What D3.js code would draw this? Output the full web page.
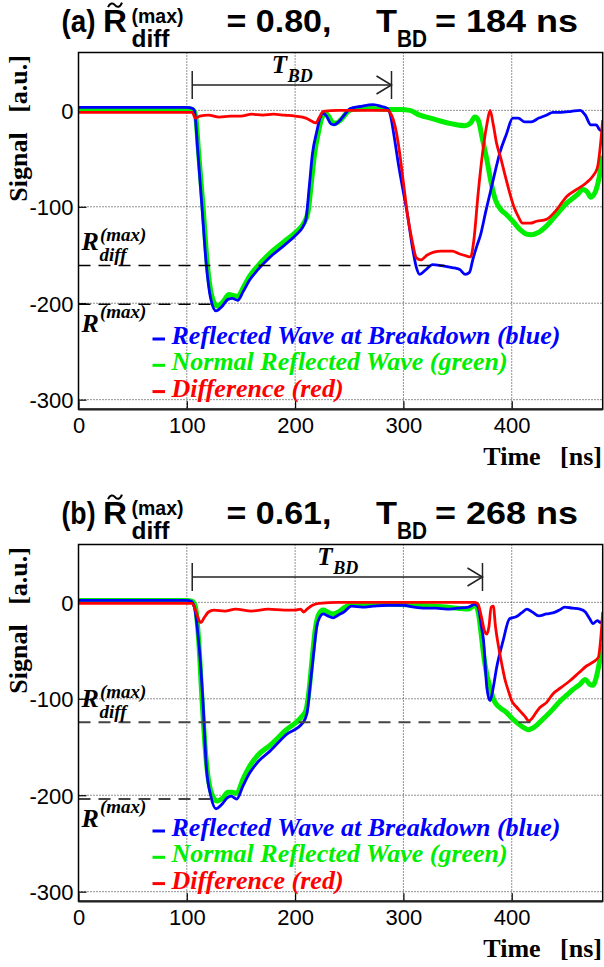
<!DOCTYPE html>
<html>
<head>
<meta charset="utf-8">
<script src="https://cdn.jsdelivr.net/npm/d3@7"></script>
<style>
  body { margin: 0; background: #fff; }
  svg { display: block; }
</style>
</head>
<body>
<svg id="fig" width="604" height="967"></svg>
<script>
// Axis ticks shared by both panels
const xTicks = [0, 100, 200, 300, 400];
const yTicks = [0, -100, -200, -300];
const xDomain = [0, 484];
const yDomain = [-310, 60];

// Panel (a): waveforms as [time ns, signal a.u.]
const blueA = [[0,3],[50,3],[100,3],[105,2],[107,0],[110,-40],[114,-100],[118,-160],[122,-195],[127,-208],[132,-204],[138,-196],[142,-195],[147,-197],[152,-188],[158,-176],[165,-166],[177,-152],[190,-140],[201,-129],[207,-121],[210,-113],[213,-80],[216,-45],[220,-22],[223,-8],[226,-3],[229,-6],[233,-14],[236,-15],[240,-12],[246,-4],[251,2],[260,4],[272,6],[280,4],[285,2],[288,-5],[291,-24],[296,-60],[300,-85],[304,-110],[308,-140],[312,-163],[315,-170],[320,-166],[327,-160],[335,-161],[345,-163],[352,-165],[357,-170],[361,-168],[364,-155],[368,-140],[371,-130],[376,-105],[380,-86],[385,-62],[389,-44],[395,-25],[401,-8],[406,-8],[412,-12],[418,-12],[425,-8],[432,-5],[438,-2],[445,-2],[455,-1],[463,0],[468,-5],[473,-15],[478,-15],[481,-20],[484,-22]];
const greenA = [[0,2],[100,2],[105,1],[108,-5],[111,-45],[115,-100],[119,-160],[123,-192],[128,-203],[133,-199],[139,-191],[143,-192],[147,-193],[152,-184],[158,-172],[165,-162],[177,-148],[190,-136],[201,-126],[208,-117],[212,-105],[215,-75],[218,-45],[222,-20],[225,-7],[228,-3],[231,-6],[235,-13],[238,-13],[242,-10],[248,-2],[252,1],[270,2],[285,1],[297,1],[306,0],[315,-5],[325,-8],[334,-11],[345,-14],[357,-16],[362,-13],[366,-7],[369,-10],[373,-30],[377,-51],[381,-75],[385,-93],[390,-103],[395,-108],[401,-115],[408,-124],[413,-128],[418,-129],[424,-127],[432,-120],[440,-110],[451,-96],[460,-88],[466,-82],[470,-85],[473,-90],[477,-85],[481,-68],[484,-47]];
const redA = [[0,-2],[100,-2],[105,-2],[108,-8],[112,-6],[120,-5],[130,-7],[140,-6],[150,-6],[160,-4],[170,-5],[180,-4],[190,-5],[200,-6],[210,-8],[215,-11],[219,-13],[222,-8],[226,-1],[240,0],[260,0],[275,0],[285,0],[289,-5],[293,-20],[296,-40],[300,-75],[304,-110],[308,-135],[312,-153],[316,-155],[322,-150],[328,-147],[335,-146],[345,-146],[352,-149],[358,-151],[362,-152],[365,-135],[369,-86],[373,-45],[377,-15],[380,0],[383,-15],[386,-34],[390,-50],[394,-68],[398,-85],[402,-100],[406,-110],[410,-117],[417,-117],[423,-115],[432,-113],[440,-105],[451,-89],[460,-82],[469,-75],[475,-68],[479,-60],[482,-35],[484,-10]];

// Panel (b)
const blueB = [[0,2],[100,2],[104,1],[107,-5],[110,-30],[112,-54],[115,-105],[118,-170],[122,-200],[127,-214],[132,-210],[137,-203],[141,-201],[146,-204],[152,-190],[158,-177],[166,-165],[177,-154],[192,-137],[207,-125],[211,-115],[214,-85],[217,-54],[220,-25],[223,-15],[226,-12],[230,-14],[235,-16],[240,-13],[245,-10],[252,-4],[262,-5],[272,-4],[285,-3],[300,-3],[310,-5],[320,-6],[330,-6],[340,-7],[350,-6],[360,-5],[366,-2],[369,-5],[372,-25],[374,-40],[377,-88],[380,-102],[383,-88],[386,-68],[392,-40],[398,-17],[404,-15],[409,-11],[414,-7],[419,-10],[425,-14],[432,-12],[438,-11],[444,-8],[449,-5],[456,-6],[463,-7],[468,-10],[472,-17],[475,-22],[479,-19],[482,-21],[484,-18]];
const greenB = [[0,2],[100,2],[105,1],[108,-5],[111,-40],[114,-100],[118,-165],[122,-195],[128,-206],[133,-203],[138,-197],[142,-197],[146,-198],[152,-183],[158,-170],[166,-158],[177,-148],[192,-132],[205,-120],[210,-112],[213,-90],[216,-55],[219,-25],[222,-12],[226,-8],[230,-10],[235,-12],[240,-10],[246,-5],[252,-2],[262,-3],[275,-2],[290,-2],[310,-3],[330,-4],[350,-6],[360,-7],[366,-3],[369,-10],[372,-35],[374,-54],[377,-75],[380,-88],[383,-100],[386,-106],[390,-110],[395,-114],[400,-120],[405,-125],[410,-129],[415,-132],[420,-130],[429,-121],[437,-112],[445,-102],[451,-96],[457,-90],[463,-85],[468,-80],[472,-85],[475,-86],[478,-78],[481,-62],[484,-43]];
const redB = [[0,-1],[100,-1],[105,-1],[108,-8],[111,-18],[113,-21],[116,-16],[120,-10],[125,-8],[135,-9],[145,-7],[160,-9],[175,-7],[190,-8],[200,-8],[205,-7],[208,-10],[211,-7],[216,-3],[222,-1],[240,0],[260,0],[300,0],[340,0],[366,0],[369,-2],[372,-15],[375,-30],[377,-33],[379,-25],[381,-5],[383,-4],[385,-25],[388,-47],[391,-65],[394,-81],[397,-92],[400,-102],[404,-108],[408,-113],[412,-118],[416,-123],[419,-120],[422,-115],[426,-109],[432,-104],[438,-95],[446,-88],[454,-81],[462,-73],[469,-66],[475,-62],[480,-57],[482,-40],[484,-10]];

// Breakdown summary values per panel
const panelLabels = ["(a)", "(b)"];
const ratioValues = [0.80, 0.61];       // R~diff(max)
const tbdValues = [184, 268];           // T_BD, ns
const tbdStart = [105, 105];            // start of T_BD arrow, ns
const rMaxValues = [-201, -204];        // R(max) level
const rMaxEnd = [122, 122];             // where the R(max) guide stops, ns
const rDiffEnd = [338, 423];            // where the R_diff(max) guide stops, ns

const legendItems = ["Reflected Wave at Breakdown (blue)", "Normal Reflected Wave (green)", "Difference (red)"];
const legendColors = ["#0000ff", "#00ee00", "#ff0000"];

const svg = d3.select("#fig");
const W = 524.2, H = 356.8, LEFT = 78.5;
const PANEL_TOP = [52.5, 544.5];
const SANS = "'Liberation Sans', Arial, Helvetica, sans-serif";
const SERIF = "'Liberation Serif', 'Times New Roman', serif";

const x = d3.scaleLinear().domain(xDomain).range([0, W]);
const y = d3.scaleLinear().domain(yDomain).range([H, 0]);
const line = d3.line().x(d => x(d[0])).y(d => y(d[1])).curve(d3.curveMonotoneX);

// Title piece: text squeezed or stretched into a fixed run
function titlePiece(g, txt, x0, yb, size, len) {
  const el = g.append("text").attr("x", x0).attr("y", yb).attr("font-size", size).text(txt);
  if (len) el.attr("textLength", len).attr("lengthAdjust", "spacingAndGlyphs");
  return el;
}

function drawPanel(i, series) {
  const top = PANEL_TOP[i];
  const off = top - PANEL_TOP[0];

  // Title
  const t = svg.append("g").attr("font-family", SANS).attr("font-weight", "bold").attr("fill", "#000");
  const tb = 31.7 + off;
  titlePiece(t, panelLabels[i], 61.5, tb, 32, 34);
  titlePiece(t, "R", 103, tb, 32, 24);
  t.append("path")
    .attr("d", `M108,${tb - 24.5}C110,${tb - 29} 113,${tb - 29} 115,${tb - 26.5}S120,${tb - 24} 122,${tb - 29}`)
    .attr("fill", "none").attr("stroke", "#000").attr("stroke-width", 2);
  titlePiece(t, "(max)", 131.5, tb - 8.5, 21, 52);
  titlePiece(t, "diff", 131.5, tb + 15, 23, 38);
  titlePiece(t, "= " + ratioValues[i].toFixed(2) + ",", 226.5, tb, 32, 105);
  titlePiece(t, "T", 376, tb, 32, 21);
  titlePiece(t, "BD", 397, tb + 15, 23, 30);
  titlePiece(t, "= " + tbdValues[i] + " ns", 435, tb, 32, 143);

  const g = svg.append("g").attr("transform", `translate(${LEFT},${top})`);

  g.append("clipPath").attr("id", "clip" + i)
    .append("rect").attr("width", W).attr("height", H);

  // Dotted grid
  const grid = g.append("g").attr("stroke", "#000").attr("stroke-width", 1)
    .attr("stroke-dasharray", "1,2").attr("opacity", 0.85);
  grid.selectAll("line.v").data(xTicks.filter(v => v > 0)).join("line")
    .attr("x1", d => x(d)).attr("x2", d => x(d)).attr("y1", 0).attr("y2", H);
  grid.selectAll("line.h").data(yTicks).join("line")
    .attr("x1", 0).attr("x2", W).attr("y1", d => y(d)).attr("y2", d => y(d));

  // Axes with inward ticks
  const fmt = d => String(d);
  const ax = g.append("g").attr("transform", `translate(0,${H})`)
    .call(d3.axisBottom(x).tickValues(xTicks).tickSize(-8).tickPadding(8.5).tickFormat(fmt));
  const ay = g.append("g")
    .call(d3.axisLeft(y).tickValues(yTicks).tickSize(-8).tickPadding(5).tickFormat(fmt));
  [ax, ay].forEach(a => {
    a.select(".domain").remove();
    a.selectAll("line").attr("stroke", "#000").attr("stroke-width", 1.2);
    a.selectAll("text").attr("font-family", SANS).attr("font-size", 22).attr("fill", "#000");
  });
  ay.selectAll("text").attr("dy", "0.36em");

  // Waveforms
  const curves = g.append("g").attr("clip-path", `url(#clip${i})`).attr("fill", "none")
    .attr("stroke-linejoin", "round");
  curves.append("path").datum(series.green).attr("d", line)
    .attr("stroke", legendColors[1]).attr("stroke-width", 5);
  curves.append("path").datum(series.blue).attr("d", line)
    .attr("stroke", legendColors[0]).attr("stroke-width", 2.8);
  curves.append("path").datum(series.red).attr("d", line)
    .attr("stroke", legendColors[2]).attr("stroke-width", 2.8);

  // Dashed guide levels: R(max) and R_diff(max) = ratio * R(max)
  const rMax = rMaxValues[i];
  const rDiff = ratioValues[i] * rMax;
  const guide = g.append("g").attr("stroke", i === 0 ? "#000" : "#444")
    .attr("stroke-width", i === 0 ? 1.5 : 2).attr("stroke-dasharray", "12,8");
  guide.append("line").attr("x1", 0).attr("x2", x(rDiffEnd[i])).attr("y1", y(rDiff)).attr("y2", y(rDiff));
  guide.append("line").attr("x1", 0).attr("x2", x(rMaxEnd[i])).attr("y1", y(rMax)).attr("y2", y(rMax));

  const lab = g.append("g").attr("font-family", SERIF).attr("font-weight", "bold")
    .attr("font-style", "italic").attr("fill", "#000");
  const rdY = y(rDiff) - 15;
  lab.append("text").attr("x", 3).attr("y", rdY).attr("font-size", 26).text("R");
  lab.append("text").attr("x", 21.5).attr("y", rdY - 9).attr("font-size", 19).text("(max)");
  lab.append("text").attr("x", 21).attr("y", rdY + 11).attr("font-size", 19).text("diff");
  const rmY = y(rMax) + 28;
  lab.append("text").attr("x", 3).attr("y", rmY).attr("font-size", 26).text("R");
  lab.append("text").attr("x", 21.5).attr("y", rmY - 14).attr("font-size", 19).text("(max)");

  // T_BD arrow
  const ay0 = 32.5;
  const xs = x(tbdStart[i]), xe = x(tbdStart[i] + tbdValues[i]);
  const arr = g.append("g").attr("stroke", "#222").attr("stroke-width", 1.5).attr("fill", "none");
  arr.append("line").attr("x1", xs).attr("x2", xe).attr("y1", ay0).attr("y2", ay0);
  arr.append("line").attr("x1", xs).attr("x2", xs).attr("y1", ay0 - 14).attr("y2", ay0 + 14);
  arr.append("line").attr("x1", xe).attr("x2", xe).attr("y1", ay0 - 14).attr("y2", ay0 + 14);
  arr.append("path").attr("d", `M${xe - 15},${ay0 - 9}L${xe},${ay0}L${xe - 15},${ay0 + 9}`);
  const mid = (xs + xe) / 2;
  lab.append("text").attr("x", mid - 20).attr("y", ay0 - 12).attr("font-size", 25).text("T");
  lab.append("text").attr("x", mid - 4).attr("y", ay0 - 3.5).attr("font-size", 18).text("BD");

  // Legend
  const leg = g.append("g").attr("font-family", SERIF).attr("font-weight", "bold")
    .attr("font-style", "italic").attr("font-size", 26);
  legendItems.forEach((txt, k) => {
    const by = 291.5 + k * 26.3;
    leg.append("line").attr("x1", 74).attr("x2", 86.5).attr("y1", by - 5).attr("y2", by - 5)
      .attr("stroke", legendColors[k]).attr("stroke-width", 3);
    leg.append("text").attr("x", 93).attr("y", by).attr("fill", legendColors[k]).text(txt);
  });

  // Frame
  g.append("rect").attr("width", W).attr("height", H).attr("fill", "none")
    .attr("stroke", "#000").attr("stroke-width", 1.5);
  g.append("line").attr("x1", 0).attr("x2", W).attr("y1", H).attr("y2", H)
    .attr("stroke", "#222").attr("stroke-width", 2.2);

  // Axis titles
  svg.append("text").attr("transform", `translate(27,${55 + off}) rotate(-90)`)
    .attr("text-anchor", "end").attr("font-family", SERIF).attr("font-weight", "bold")
    .attr("font-size", 26).attr("xml:space", "preserve").text("Signal   [a.u.]");
  svg.append("text").attr("x", 602).attr("y", 465 + off).attr("text-anchor", "end")
    .attr("font-family", SERIF).attr("font-weight", "bold").attr("font-size", 26)
    .attr("xml:space", "preserve").text("Time   [ns]");
}

drawPanel(0, { blue: blueA, green: greenA, red: redA });
drawPanel(1, { blue: blueB, green: greenB, red: redB });
</script>
</body>
</html>
